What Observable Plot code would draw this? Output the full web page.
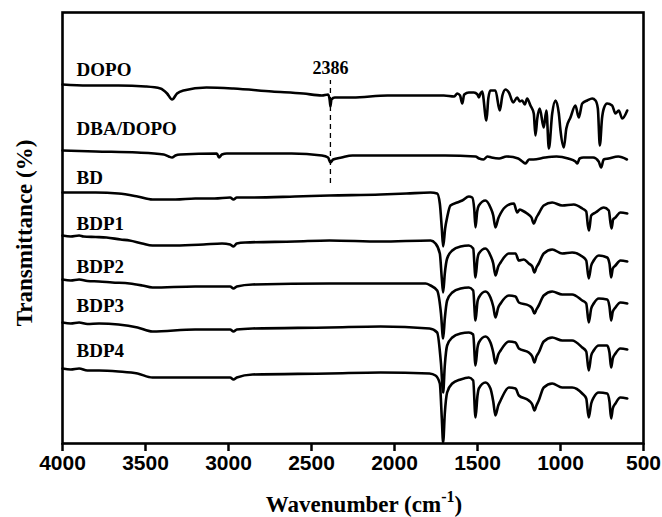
<!DOCTYPE html>
<html><head><meta charset="utf-8">
<script src="https://cdn.jsdelivr.net/npm/d3@7"></script>
<script src="https://cdn.jsdelivr.net/npm/@observablehq/plot@0.6"></script>
<style>body{margin:0;background:#fff}</style>
</head><body><div id="chart"></div>
<script>
// Series names (top to bottom)
const seriesNames = ["DOPO", "DBA/DOPO", "BD", "BDP1", "BDP2", "BDP3", "BDP4"];

// Each spectrum: [wavenumber (cm-1), transmittance (a.u., offset-stacked)]
const DOPO = [[4000,359],[3850,358],[3663,358],[3500,357],[3410,355],[3370,350],[3340,344],[3310,350],[3271,353],[3133,356],[2970,355],[2738,352],[2550,350],[2437,348],[2400,349],[2390,343],[2386,337],[2380,344],[2360,346],[2253,346],[2042,348],[1850,348],[1703,348],[1640,347],[1622,350],[1605,348],[1592,340],[1580,349],[1552,351],[1522,351],[1500,349],[1492,346],[1482,350],[1472,352],[1446,323],[1435,345],[1422,353],[1392,353],[1366,333],[1350,348],[1331,354],[1311,351],[1285,341],[1261,346],[1245,342],[1231,343],[1215,339],[1201,345],[1181,338],[1161,330],[1151,308],[1140,325],[1125,335],[1101,316],[1085,333],[1070,295],[1050,330],[1030,343],[1010,330],[1000,313],[980,296],[965,315],[940,326],[910,338],[890,326],[869,340],[839,343],[809,345],[789,343],[775,335],[763,298],[750,325],[739,335],[719,340],[689,338],[669,330],[649,333],[628,325],[598,333]];
const DBA_DOPO = [[4000,293],[3800,292],[3550,291],[3390,289],[3360,287],[3340,286],[3320,288],[3290,289],[3070,290],[3057,286],[3040,289],[3010,290],[2620,290],[2437,288],[2400,286],[2386,281],[2370,284],[2319,286],[2253,288],[1695,288],[1512,287],[1490,285],[1464,284],[1440,287],[1416,286],[1370,285],[1325,287],[1255,285],[1230,282],[1211,280],[1190,284],[1163,284],[1093,286],[1024,287],[954,285],[910,282],[898,280],[885,285],[862,286],[803,286],[770,282],[755,276],[740,284],[711,285],[652,287],[600,284]];
const BD = [[4000,251],[3800,251],[3663,250],[3548,247],[3458,244],[3319,244],[3200,245],[3084,245],[2990,246],[2970,244],[2950,246],[2855,246],[2600,247],[2392,248],[2084,249],[1928,250],[1783,251],[1743,250],[1727,240],[1715,215],[1707,197],[1695,215],[1683,226],[1663,238],[1622,241],[1592,243],[1552,247],[1532,246],[1520,235],[1512,216],[1502,232],[1492,238],[1452,243],[1422,236],[1405,228],[1392,216],[1375,225],[1361,230],[1321,238],[1281,240],[1261,231],[1245,234],[1231,233],[1201,230],[1175,226],[1161,220],[1145,226],[1131,230],[1101,238],[1050,241],[990,238],[920,239],[869,235],[845,232],[835,218],[828,213],[815,228],[789,231],[739,236],[709,233],[700,222],[692,215],[683,224],[669,226],[639,231],[598,230]];
const BDP1 = [[4000,208],[3950,207],[3900,208],[3873,207],[3800,206.5],[3735,206],[3650,204],[3596,203],[3520,200],[3458,198],[3319,198],[3150,199],[3039,200],[2990,199],[2970,197],[2950,200],[2900,201],[2600,202],[2392,203],[2084,202],[1783,203],[1753,200],[1727,190],[1715,165],[1707,151],[1697,170],[1683,185],[1652,193],[1602,197],[1552,198],[1526,195],[1512,166],[1500,185],[1492,190],[1452,195],[1422,188],[1405,180],[1392,168],[1375,177],[1361,181],[1311,190],[1271,190],[1251,183],[1221,184],[1191,180],[1170,177],[1157,171],[1145,176],[1131,180],[1101,190],[1050,194],[990,190],[930,191],[869,187],[845,183],[830,165],[815,178],[800,183],[769,188],[719,186],[705,180],[695,166],[685,175],[669,178],[639,183],[598,182]];
const BDP2 = [[4000,164],[3950,163],[3900,164],[3850,162.5],[3780,162],[3700,161],[3596,160],[3520,158],[3458,156],[3201,157],[2990,157],[2970,155],[2950,157],[2855,159],[2392,160],[2084,160],[1813,160],[1783,158],[1743,153],[1720,130],[1707,105],[1697,125],[1683,143],[1652,151],[1602,155],[1552,156],[1526,153],[1512,123],[1500,142],[1492,146],[1452,152],[1422,146],[1405,137],[1392,126],[1375,136],[1361,140],[1311,148],[1271,147],[1251,141],[1191,138],[1170,135],[1157,130],[1145,134],[1131,138],[1101,148],[1050,152],[990,149],[930,149],[869,143],[845,140],[830,121],[815,135],[800,140],[769,145],[719,144],[705,137],[695,123],[685,132],[669,136],[639,141],[598,140]];
const BDP3 = [[4000,121],[3950,120],[3900,121],[3850,119.5],[3780,120],[3663,119],[3548,116],[3458,112],[3201,114],[2990,114],[2970,112],[2950,114],[2855,115],[2392,116],[2084,117],[1789,115],[1743,111],[1720,80],[1707,51],[1697,78],[1683,98],[1652,106],[1602,110],[1552,111],[1526,109],[1512,78],[1500,96],[1492,101],[1452,107],[1422,101],[1405,91],[1392,80],[1375,89],[1361,93],[1311,102],[1271,101],[1251,95],[1191,91],[1170,87],[1157,81],[1145,87],[1131,91],[1101,102],[1050,106],[990,103],[930,103],[869,96],[845,92],[830,73],[815,88],[800,93],[769,98],[719,98],[705,91],[695,76],[685,85],[669,90],[639,95],[598,94]];
const BDP4 = [[4000,75],[3950,74],[3900,75],[3850,73],[3780,73],[3663,72],[3548,70],[3458,66],[3201,66],[2990,66],[2970,64],[2950,66],[2855,69],[2392,70],[2084,71],[1789,70],[1753,68],[1727,60],[1715,25],[1707,1],[1697,30],[1683,51],[1652,60],[1602,64],[1552,66],[1526,63],[1512,26],[1500,48],[1492,55],[1452,61],[1422,55],[1405,42],[1392,28],[1375,38],[1361,43],[1311,56],[1271,55],[1251,48],[1191,43],[1170,39],[1157,33],[1145,38],[1131,43],[1101,56],[1050,60],[990,56],[930,56],[869,50],[845,45],[830,26],[815,40],[800,46],[769,51],[719,50],[705,42],[695,25],[685,35],[669,40],[639,46],[598,45]];

// Tick values of the wavenumber axis
const xTicks = [4000, 3500, 3000, 2500, 2000, 1500, 1000, 500];

// Annotation: marked band at 2386 cm-1 (in data units)
const peakMarker = [{w: 2386, top: 363, bottom: 260, labelT: 375, label: "2386"}];
// Series label anchors (data units)
const labelW = 3915;
const labelT = [374, 315, 266, 220, 177, 138, 93];

const spectra = [DOPO, DBA_DOPO, BD, BDP1, BDP2, BDP3, BDP4];
const rows = spectra.flatMap((s, i) => s.map(([w, t]) => ({series: seriesNames[i], w, t})));
const labels = seriesNames.map((name, i) => ({name, w: labelW, t: labelT[i]}));

const serif = "'Liberation Serif','Times New Roman',serif";
const sans = "'Liberation Sans',Arial,sans-serif";

const chart = Plot.plot({
  width: 662, height: 517,
  marginLeft: 62, marginRight: 19, marginTop: 12, marginBottom: 74,
  x: {domain: [4000, 500]},
  y: {domain: [0, 431], axis: null},
  style: {background: "white", color: "black", overflow: "visible"},
  marks: [
    Plot.line(rows, {x: "w", y: "t", z: "series", stroke: "black", strokeWidth: 2.6, strokeLinejoin: "round", curve: "monotone-x"}),
    Plot.ruleX(peakMarker, {x: "w", y1: "bottom", y2: "top", stroke: "black", strokeWidth: 1.3, strokeDasharray: "5,4"}),
    Plot.text(peakMarker, {x: "w", y: "labelT", text: "label", fontFamily: serif, fontWeight: "bold", fontSize: 18}),
    Plot.text(labels, {x: "w", y: "t", text: "name", textAnchor: "start", fontFamily: serif, fontWeight: "bold", fontSize: 19}),
    Plot.axisX({ticks: xTicks, tickSize: 8, tickPadding: 4, strokeWidth: 2.5, fontSize: 21, fontWeight: "bold", fontFamily: sans, label: null, tickFormat: d => String(d)}),
    Plot.frame({stroke: "black", strokeWidth: 2.6})
  ]
});

const svg = d3.select(chart);
const xt = svg.append("text")
  .attr("x", 364).attr("y", 512)
  .attr("text-anchor", "middle")
  .style("font-family", serif).style("font-weight", "bold").style("font-size", "23px")
  .attr("fill", "black");
xt.append("tspan").text("Wavenumber (cm");
xt.append("tspan").attr("dy", -10).style("font-size", "16px").text("-1");
xt.append("tspan").attr("dy", 10).text(")");

svg.append("text")
  .attr("transform", "translate(24,233) rotate(-90)")
  .attr("text-anchor", "middle").attr("dominant-baseline", "central")
  .style("font-family", serif).style("font-weight", "bold").style("font-size", "23px")
  .attr("fill", "black")
  .text("Transmittance (%)");

document.getElementById("chart").appendChild(chart);
</script>
</body></html>
